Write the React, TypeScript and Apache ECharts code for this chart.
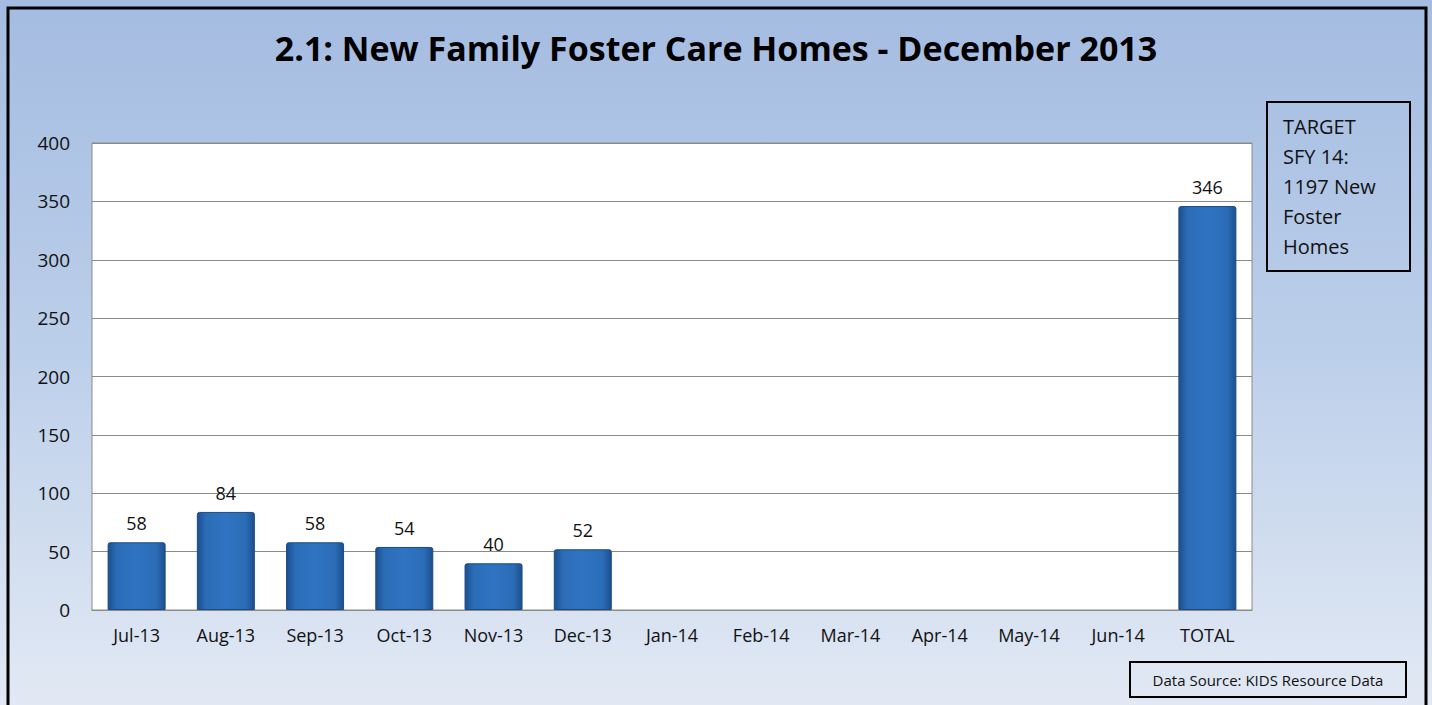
import React, { useEffect, useRef } from "react";
import * as echarts from "echarts";

const categories = ["Jul-13", "Aug-13", "Sep-13", "Oct-13", "Nov-13", "Dec-13", "Jan-14", "Feb-14", "Mar-14", "Apr-14", "May-14", "Jun-14", "TOTAL"];
const values: (number | null)[] = [58, 84, 58, 54, 40, 52, null, null, null, null, null, null, 346];
const titleText = "2.1: New Family Foster Care Homes - December 2013";
const targetLines = ["TARGET", "SFY 14:", "1197 New", "Foster", "Homes"];
const sourceText = "Data Source: KIDS Resource Data";

const FONT = "'Open Sans', 'Noto Sans', sans-serif";

export default function App() {
  const ref = useRef<HTMLDivElement>(null);
  useEffect(() => {
    if (!ref.current) return;
    const chart = echarts.init(ref.current, null, { renderer: "svg" });
    const barGrad = new echarts.graphic.LinearGradient(0, 0, 1, 0, [
      { offset: 0, color: "#1c4f8e" },
      { offset: 0.15, color: "#2b6cb6" },
      { offset: 0.5, color: "#2f74c2" },
      { offset: 0.85, color: "#2b6cb6" },
      { offset: 1, color: "#1c4f8e" },
    ]);
    chart.setOption({
      animation: false,
      backgroundColor: new echarts.graphic.LinearGradient(0, 0, 0, 1, [
        { offset: 0, color: "#a4bce1" },
        { offset: 0.5, color: "#bccfea" },
        { offset: 1, color: "#e2e9f4" },
      ]),
      title: {
        text: titleText,
        left: "center",
        top: 26,
        textStyle: { fontFamily: FONT, fontWeight: "bold", fontSize: 34, color: "#000" },
      },
      grid: { left: 92, right: 180, top: 143, bottom: 95, containLabel: false, show: true, backgroundColor: "#fff", borderColor: "#8a8a8a", borderWidth: 1 },
      xAxis: {
        type: "category",
        data: categories,
        axisLine: { show: true, lineStyle: { color: "#8a8a8a" } },
        axisTick: { show: false },
        axisLabel: { fontFamily: FONT, fontSize: 18, color: "#111", margin: 16 },
      },
      yAxis: {
        type: "value",
        min: 0,
        max: 400,
        interval: 50,
        axisLine: { show: false },
        axisTick: { show: false },
        splitLine: { lineStyle: { color: "#8a8a8a", width: 1 } },
        axisLabel: { fontFamily: FONT, fontSize: 19, color: "#111", margin: 22 },
      },
      series: [
        {
          type: "bar",
          data: values,
          barWidth: "65%",
          itemStyle: { color: barGrad, borderColor: "#1a4a85", borderWidth: 1, borderRadius: [2, 2, 0, 0] },
          label: { show: true, position: "top", distance: 10, fontFamily: FONT, fontSize: 18, color: "#111" },
        },
      ],
      graphic: [
        { type: "rect", shape: { x: 8, y: 8, width: 1418, height: 710 }, style: { fill: "none", stroke: "#000", lineWidth: 3 } },
        { type: "rect", shape: { x: 1267, y: 102, width: 143, height: 169 }, style: { fill: "none", stroke: "#000", lineWidth: 2 } },
        {
          type: "text",
          x: 1283,
          y: 111,
          style: { text: targetLines.join("\n"), font: `20px ${FONT}`, fill: "#111", lineHeight: 30 },
        },
        { type: "rect", shape: { x: 1130, y: 662, width: 276, height: 35 }, style: { fill: "none", stroke: "#000", lineWidth: 2 } },
        {
          type: "text",
          x: 1268,
          y: 680,
          style: { text: sourceText, font: `15px ${FONT}`, fill: "#111", align: "center", verticalAlign: "middle" },
        },
      ],
    });
    return () => chart.dispose();
  }, []);
  return <div ref={ref} style={{ position: "fixed", left: 0, top: 0, width: 1432, height: 705 }} />;
}
